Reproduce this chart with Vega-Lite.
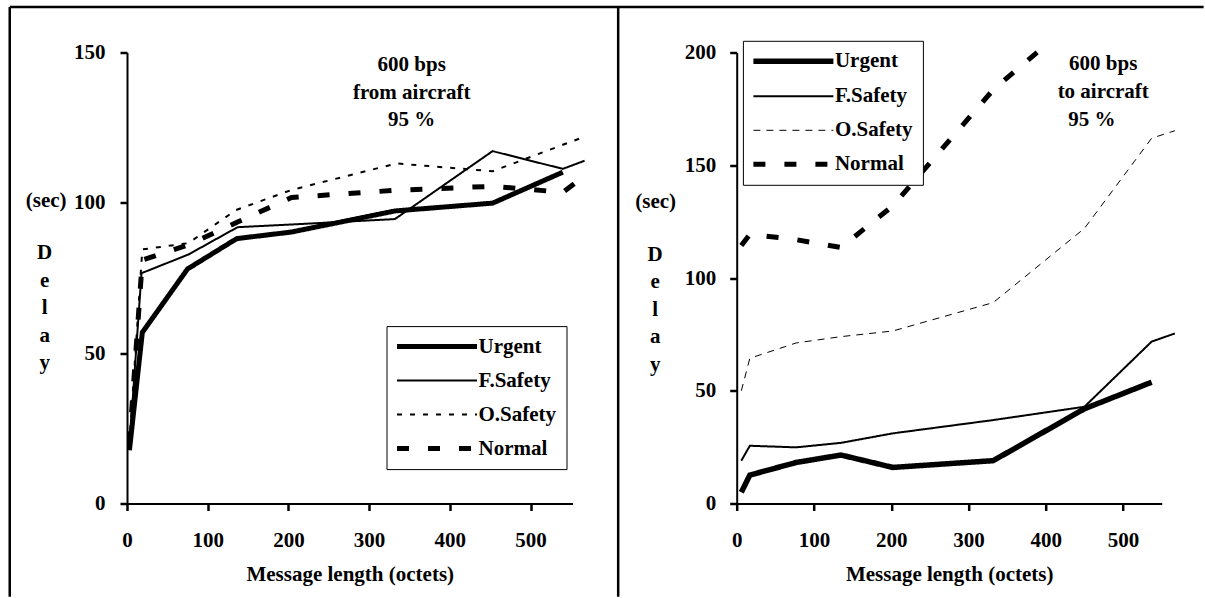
{
  "$schema": "https://vega.github.io/schema/vega-lite/v6.json",
  "padding": {"left": 8, "top": 5.5, "right": 0, "bottom": 0},
  "autosize": {"type": "pad"},
  "bounds": "flush",
  "spacing": 163.7,
  "background": "white",
  "config": {
    "font": "Liberation Serif",
    "view": {"stroke": null},
    "axis": {
      "grid": false,
      "domainColor": "black",
      "domainWidth": 2,
      "tickColor": "black",
      "tickWidth": 2.5,
      "tickSize": 7,
      "labelFont": "Liberation Serif",
      "labelFontSize": 21,
      "labelFontWeight": "bold",
      "labelColor": "black",
      "labelFlush": false,
      "titleFont": "Liberation Serif",
      "titleFontSize": 21,
      "titleFontWeight": "bold",
      "titleColor": "black"
    },
    "legend": {
      "labelFont": "Liberation Serif",
      "labelFontSize": 21,
      "labelFontWeight": "bold",
      "labelColor": "black"
    }
  },
  "datasets": {
    "frame": [
      {"part": "left edge", "x": -145.3, "x2": -145.3, "y": 165.1, "y2": -31},
      {"part": "top edge", "x": -145.3, "x2": 1334, "y": 165.1, "y2": 165.1},
      {"part": "divider", "x": 608.6, "x2": 608.6, "y": 165.1, "y2": -31}
    ],
    "fromAircraft": [
      {"series": "Urgent", "x": 3, "y": 17.7},
      {"series": "Urgent", "x": 19, "y": 56.9},
      {"series": "Urgent", "x": 75, "y": 78},
      {"series": "Urgent", "x": 136, "y": 88.1},
      {"series": "Urgent", "x": 204, "y": 90.3},
      {"series": "Urgent", "x": 332, "y": 97.3},
      {"series": "Urgent", "x": 453, "y": 99.9},
      {"series": "Urgent", "x": 540, "y": 110.2},
      {"series": "F.Safety", "x": 3, "y": 19},
      {"series": "F.Safety", "x": 18, "y": 76.6},
      {"series": "F.Safety", "x": 76, "y": 82.8},
      {"series": "F.Safety", "x": 137, "y": 91.9},
      {"series": "F.Safety", "x": 204, "y": 92.8},
      {"series": "F.Safety", "x": 332, "y": 94.6},
      {"series": "F.Safety", "x": 453, "y": 117.2},
      {"series": "F.Safety", "x": 540, "y": 111.3},
      {"series": "F.Safety", "x": 567, "y": 114},
      {"series": "O.Safety", "x": 3, "y": 20},
      {"series": "O.Safety", "x": 19, "y": 84.5},
      {"series": "O.Safety", "x": 76, "y": 86.6},
      {"series": "O.Safety", "x": 135, "y": 97.6},
      {"series": "O.Safety", "x": 204, "y": 104.3},
      {"series": "O.Safety", "x": 334, "y": 113.1},
      {"series": "O.Safety", "x": 453, "y": 110.5},
      {"series": "O.Safety", "x": 540, "y": 119.3},
      {"series": "O.Safety", "x": 567, "y": 122},
      {"series": "Normal", "x": 3, "y": 20},
      {"series": "Normal", "x": 19, "y": 81},
      {"series": "Normal", "x": 76, "y": 86},
      {"series": "Normal", "x": 137, "y": 93.6},
      {"series": "Normal", "x": 204, "y": 101.8},
      {"series": "Normal", "x": 334, "y": 104.2},
      {"series": "Normal", "x": 453, "y": 105.5},
      {"series": "Normal", "x": 540, "y": 103.5},
      {"series": "Normal", "x": 567, "y": 109}
    ],
    "toAircraft": [
      {"series": "Urgent", "x": 6, "y": 5},
      {"series": "Urgent", "x": 17, "y": 12.6},
      {"series": "Urgent", "x": 77, "y": 18.2},
      {"series": "Urgent", "x": 135, "y": 21.5},
      {"series": "Urgent", "x": 202, "y": 16},
      {"series": "Urgent", "x": 332, "y": 19},
      {"series": "Urgent", "x": 450, "y": 42},
      {"series": "Urgent", "x": 537, "y": 53.8},
      {"series": "F.Safety", "x": 6, "y": 19},
      {"series": "F.Safety", "x": 17, "y": 25.6},
      {"series": "F.Safety", "x": 77, "y": 24.9},
      {"series": "F.Safety", "x": 135, "y": 26.9},
      {"series": "F.Safety", "x": 202, "y": 31.1},
      {"series": "F.Safety", "x": 332, "y": 37},
      {"series": "F.Safety", "x": 450, "y": 42.9},
      {"series": "F.Safety", "x": 537, "y": 71.8},
      {"series": "F.Safety", "x": 567, "y": 75.4},
      {"series": "O.Safety", "x": 6, "y": 50},
      {"series": "O.Safety", "x": 17, "y": 64.4},
      {"series": "O.Safety", "x": 77, "y": 71.2},
      {"series": "O.Safety", "x": 135, "y": 74},
      {"series": "O.Safety", "x": 202, "y": 76.5},
      {"series": "O.Safety", "x": 332, "y": 89.1},
      {"series": "O.Safety", "x": 450, "y": 122},
      {"series": "O.Safety", "x": 537, "y": 162},
      {"series": "O.Safety", "x": 567, "y": 165.3},
      {"series": "Normal", "x": 6, "y": 114.4},
      {"series": "Normal", "x": 17, "y": 119.4},
      {"series": "Normal", "x": 77, "y": 117},
      {"series": "Normal", "x": 135, "y": 113.5},
      {"series": "Normal", "x": 202, "y": 132},
      {"series": "Normal", "x": 332, "y": 183.5},
      {"series": "Normal", "x": 404, "y": 204.5}
    ],
    "noteFrom": [
      {"label": "600 bps\nfrom aircraft\n95 %", "x": 352.8, "y": 145.7},
      {"label": "D\ne\nl\na\ny", "x": -102, "y": 83.3}
    ],
    "noteTo": [
      {"label": "600 bps\nto aircraft", "x": 474.3, "y": 194.8},
      {"label": "95 %", "x": 459.7, "y": 170.0},
      {"label": "D\ne\nl\na\ny", "x": -105.5, "y": 110.2}
    ]
  },
  "hconcat": [
    {
      "width": 445.5,
      "height": 451,
      "encoding": {
        "x": {
          "field": "x", "type": "quantitative",
          "scale": {"domain": [0, 552], "nice": false, "zero": false},
          "axis": {"values": [0, 100, 200, 300, 400, 500], "labelPadding": 19, "title": "Message length (octets)", "titlePadding": 13}
        },
        "y": {
          "field": "y", "type": "quantitative",
          "scale": {"domain": [0, 150], "nice": false, "zero": false},
          "axis": {
            "values": [0, 50, 100, 150], "labelPadding": 15,
            "title": "(sec)",
            "titleAngle": 0, "titleAlign": "center", "titleBaseline": "top",
            "titleX": -81.3, "titleY": 136.5
          }
        }
      },
      "layer": [
        {
          "data": {"name": "frame"},
          "mark": {"type": "rule", "color": "black", "strokeWidth": 2.5},
          "encoding": {"x2": {"field": "x2"}, "y2": {"field": "y2"}}
        },
        {
          "data": {"name": "fromAircraft"},
          "mark": {"type": "line", "color": "black", "strokeCap": "butt"},
          "encoding": {
            "detail": {"field": "series"},
            "strokeWidth": {
              "field": "series", "type": "nominal",
              "scale": {"type": "ordinal", "domain": ["Urgent", "F.Safety", "O.Safety", "Normal"], "range": [5, 2, 2, 5]}
            },
            "strokeDash": {
              "field": "series", "type": "nominal",
              "scale": {"domain": ["Urgent", "F.Safety", "O.Safety", "Normal"], "range": [[1, 0], [1, 0], [5, 8], [12, 19]]},
              "legend": {
                "orient": "none", "legendX": 259.5, "legendY": 273.6, "title": null,
                "symbolType": "M-8,0H8", "symbolSize": 100, "symbolStrokeColor": "black",
                "symbolOffset": 30, "labelOffset": 31, "rowPadding": 12, "padding": 10,
                "strokeColor": "black", "fillColor": "white"
              }
            }
          }
        },
        {
          "data": {"name": "noteFrom"},
          "mark": {"type": "text", "lineBreak": "\n", "lineHeight": 27.5, "align": "center", "baseline": "middle", "fontSize": 21, "fontWeight": "bold", "font": "Liberation Serif", "color": "black"},
          "encoding": {"text": {"field": "label"}}
        }
      ]
    },
    {
      "width": 425,
      "height": 451,
      "encoding": {
        "x": {
          "field": "x", "type": "quantitative",
          "scale": {"domain": [0, 550], "nice": false, "zero": false},
          "axis": {"values": [0, 100, 200, 300, 400, 500], "labelPadding": 19, "title": "Message length (octets)", "titlePadding": 13}
        },
        "y": {
          "field": "y", "type": "quantitative",
          "scale": {"domain": [0, 200], "nice": false, "zero": false},
          "axis": {
            "values": [0, 50, 100, 150, 200], "labelPadding": 14,
            "title": "(sec)",
            "titleAngle": 0, "titleAlign": "center", "titleBaseline": "top",
            "titleX": -81.5, "titleY": 137.5
          }
        }
      },
      "layer": [
        {
          "data": {"name": "toAircraft"},
          "mark": {"type": "line", "color": "black", "strokeCap": "butt"},
          "encoding": {
            "detail": {"field": "series"},
            "strokeWidth": {
              "field": "series", "type": "nominal",
              "scale": {"type": "ordinal", "domain": ["Urgent", "F.Safety", "O.Safety", "Normal"], "range": [5.5, 2, 1, 5]}
            },
            "strokeDash": {
              "field": "series", "type": "nominal",
              "scale": {"domain": ["Urgent", "F.Safety", "O.Safety", "Normal"], "range": [[1, 0], [1, 0], [7, 6], [12, 19]]},
              "legend": {
                "orient": "none", "legendX": 6.2, "legendY": -11.7, "title": null,
                "symbolType": "M-8,0H8", "symbolSize": 100, "symbolStrokeColor": "black",
                "symbolOffset": 30, "labelOffset": 31, "rowPadding": 12, "padding": 10,
                "strokeColor": "black", "fillColor": "white"
              }
            }
          }
        },
        {
          "data": {"name": "noteTo"},
          "mark": {"type": "text", "lineBreak": "\n", "lineHeight": 27.5, "align": "center", "baseline": "middle", "fontSize": 21, "fontWeight": "bold", "font": "Liberation Serif", "color": "black"},
          "encoding": {"text": {"field": "label"}}
        }
      ]
    }
  ],
  "resolve": {
    "scale": {"strokeWidth": "independent", "strokeDash": "independent"},
    "legend": {"strokeWidth": "independent", "strokeDash": "independent"}
  }
}
